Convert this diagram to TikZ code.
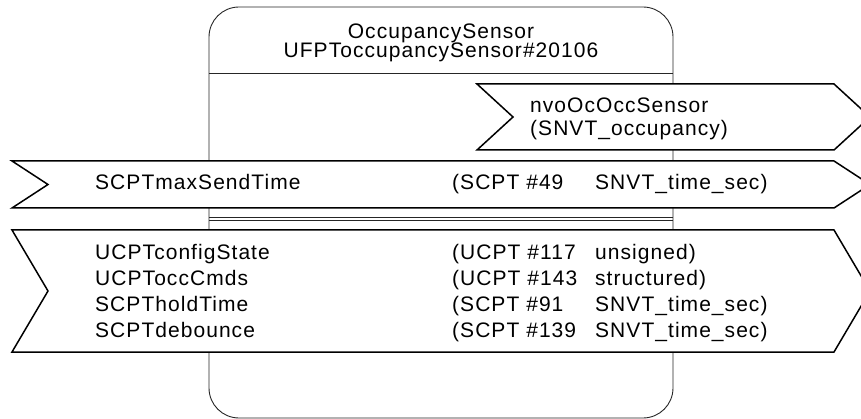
\documentclass[tikz,border=0pt]{standalone}
\usepackage{fontspec}
\setmainfont{Liberation Sans}[LetterSpace=5]
\begin{document}
\begin{tikzpicture}[x=1pt,y=-1pt,
  boxline/.style={draw=black!85,line width=0.9pt},
  flag/.style={draw=black,fill=white,line width=1.5pt,line join=miter},
  txt/.style={inner sep=0pt,anchor=base west,font=\fontsize{21}{24}\selectfont},
  ctxt/.style={inner sep=0pt,anchor=base,font=\fontsize{21}{24}\selectfont}]
\useasboundingbox (0,0) rectangle (861,419);
% component box
\draw[boxline,rounded corners=30pt] (209,7) rectangle (673,418);
\draw[boxline] (209,73.5) -- (673,73.5);
\draw[boxline] (209,217.3) -- (673,217.3);
\draw[boxline] (209,220.7) -- (673,220.7);
% header
\node[ctxt] (title) at (441,39) {OccupancySensor};
\node[ctxt] (prog) at (441,58) {UFPToccupancySensor\#20106};
% output network variable
\draw[flag] (477,84) -- (834,84) -- (870,117) -- (834,150) -- (477,150) -- (513,117) -- cycle;
\node[txt] (nvo1) at (530,113) {nvoOcOccSensor};
\node[txt] (nvo2) at (530,136) {(SNVT\_occupancy)};
% property flag
\draw[flag] (12,161) -- (834,161) -- (870,184.5) -- (834,208) -- (12,208) -- (48,184.5) -- cycle;
\node[txt] (p0a) at (95,190) {SCPTmaxSendTime};
\node[txt] (p0b) at (452,190) {(SCPT \#49};
\node[txt] (p0c) at (595,190) {SNVT\_time\_sec)};
% configuration properties flag
\draw[flag] (12,230) -- (834,230) -- (870,291) -- (834,352) -- (12,352) -- (48,291) -- cycle;
\node[txt] (p1a) at (95,260) {UCPTconfigState};
\node[txt] (p1b) at (452,260) {(UCPT \#117};
\node[txt] (p1c) at (595,260) {unsigned)};
\node[txt] (p2a) at (95,285.7) {UCPToccCmds};
\node[txt] (p2b) at (452,285.7) {(UCPT \#143};
\node[txt] (p2c) at (595,285.7) {structured)};
\node[txt] (p3a) at (95,311.3) {SCPTholdTime};
\node[txt] (p3b) at (452,311.3) {(SCPT \#91};
\node[txt] (p3c) at (595,311.3) {SNVT\_time\_sec)};
\node[txt] (p4a) at (95,337) {SCPTdebounce};
\node[txt] (p4b) at (452,337) {(SCPT \#139};
\node[txt] (p4c) at (595,337) {SNVT\_time\_sec)};
\end{tikzpicture}
\end{document}
